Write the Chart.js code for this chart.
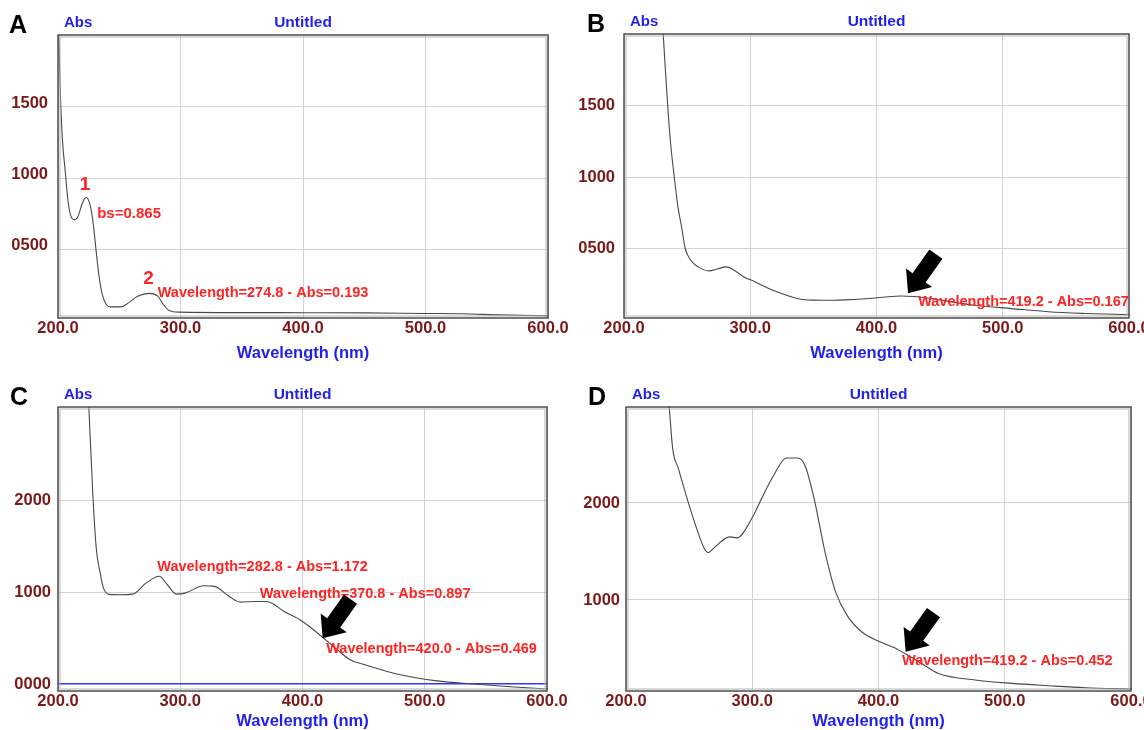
<!DOCTYPE html>
<html>
<head>
<meta charset="utf-8">
<script src="https://cdn.jsdelivr.net/npm/chart.js@4.4.0/dist/chart.umd.min.js"></script>
<style>
  body { margin: 0; background: #fff; width: 1144px; height: 730px; position: relative; overflow: hidden; }
  .panel { position: absolute; width: 572px; height: 365px; }
</style>
</head>
<body>
<div class="panel" style="left:0;top:0"><canvas id="chartA"></canvas></div>
<div class="panel" style="left:572px;top:0"><canvas id="chartB"></canvas></div>
<div class="panel" style="left:0;top:365px"><canvas id="chartC"></canvas></div>
<div class="panel" style="left:572px;top:365px"><canvas id="chartD"></canvas></div>
<script>
"use strict";

// shared x ticks (nm)
const xTickValues = [200, 300, 400, 500, 600];

// panel A
const wavelengthA = [200.6, 202.1, 203.6, 206, 208, 210.5, 213.5, 216.5, 220, 223, 226, 229, 231, 233.5, 236.5, 239.5, 242.5, 251.5, 257.5, 265, 274.8, 281.4, 286, 290.4, 299.3, 350, 400, 450, 500, 530, 560, 600];
const absA = [2010, 1551, 1273, 1040, 853, 736, 708, 736, 829, 865, 818, 666, 500, 313, 173, 115, 98, 98, 126, 173, 193, 173, 115, 75, 61, 58, 57, 56, 52, 50, 42, 35];
const yTicksA = [500, 1000, 1500];

// panel B
const wavelengthB = [231, 234.6, 236.9, 239.8, 242.7, 245.6, 248.5, 252.9, 258.7, 267.4, 274, 280.5, 286.3, 295, 304, 318, 333, 340, 350, 362, 375, 391, 405, 419.2, 430, 443, 460, 478, 507, 536, 565, 600];
const absB = [2010, 1500, 1238, 1003, 793, 652, 500, 418, 371, 343, 356, 371, 353, 301, 266, 207, 160, 144, 138, 137, 140, 148, 158, 167, 164, 150, 125, 102, 79, 57, 45, 36];
const yTicksB = [500, 1000, 1500];

// panel C
const wavelengthC = [225.2, 228.4, 231.3, 234.3, 237.3, 241.8, 251, 261, 272, 282.8, 289.5, 297, 304, 319, 328, 340, 349, 361, 370.8, 385, 400, 420, 430, 439, 451, 480, 510, 540, 570, 600];
const absC = [3020, 2090, 1475, 1221, 1040, 975, 971, 978, 1098, 1172, 1080, 978, 989, 1069, 1062, 953, 891, 898, 897, 790, 681, 469, 355, 264, 210, 100, 34, 0, -29, -54];
const yTicksC = [0, 1000, 2000];

// panel D
const wavelengthD = [234.2, 237, 241.5, 250, 256, 262, 265, 270.5, 282, 288, 299.6, 308, 317, 327, 336, 341.7, 349, 357.6, 366, 375, 386.6, 401, 412.8, 419.2, 425, 436, 447.6, 476.6, 505.7, 534.7, 563.7, 600];
const absD = [3000, 2560, 2355, 1976, 1734, 1528, 1486, 1545, 1648, 1638, 1838, 2062, 2286, 2465, 2465, 2390, 2045, 1493, 1079, 838, 666, 562, 500, 452, 410, 321, 234, 166, 131, 107, 86, 72];
const yTicksD = [1000, 2000];

const FONT = "'Liberation Sans', Arial, sans-serif";
const TICK_COLOR = "#7b1818";
const BLUE = "#1f1fee";
const RED = "#ff2424";
const W = 572, H = 365;

function drawArrow(ctx, tx, ty) {
    const len = 48, shaft = 16, headW = 32, headL = 19;
    const ux = 0.58, uy = -0.815;
    const px = -uy, py = ux;
    const bx = tx + ux * headL, by = ty + uy * headL;
    const ex = tx + ux * len, ey = ty + uy * len;
    ctx.beginPath();
    ctx.moveTo(tx, ty);
    ctx.lineTo(bx + px * headW / 2, by + py * headW / 2);
    ctx.lineTo(bx + px * shaft / 2, by + py * shaft / 2);
    ctx.lineTo(ex + px * shaft / 2, ey + py * shaft / 2);
    ctx.lineTo(ex - px * shaft / 2, ey - py * shaft / 2);
    ctx.lineTo(bx - px * shaft / 2, by - py * shaft / 2);
    ctx.lineTo(bx - px * headW / 2, by - py * headW / 2);
    ctx.closePath();
    ctx.fill();
}

const panelDecor = {
    id: "panelDecor",
    afterDraw(chart, args, opts) {
        const { ctx, chartArea: a, scales: { x, y } } = chart;
        ctx.save();

        // frame
        ctx.strokeStyle = "#4d4d4d";
        ctx.lineWidth = 1.5;
        ctx.strokeRect(a.left, a.top, a.right - a.left, a.bottom - a.top);
        ctx.strokeStyle = "#b5b5b5";
        ctx.lineWidth = 1;
        ctx.strokeRect(a.left + 2, a.top + 2, a.right - a.left - 4, a.bottom - a.top - 4);

        // header
        ctx.textBaseline = "middle";
        ctx.fillStyle = "#000";
        ctx.font = "bold 25px " + FONT;
        ctx.textAlign = "left";
        ctx.fillText(opts.letter, opts.letterX, a.top - 9);
        ctx.fillStyle = BLUE;
        ctx.font = "bold 15px " + FONT;
        ctx.fillText("Abs", a.left + 6, a.top - 12);
        ctx.textAlign = "center";
        ctx.font = "bold 15.5px " + FONT;
        ctx.fillText("Untitled", (a.left + a.right) / 2, a.top - 12);

        // annotations
        ctx.fillStyle = RED;
        opts.notes.forEach(function(n) {
            ctx.font = "bold " + (n.size || 14.5) + "px " + FONT;
            ctx.textAlign = n.align || "left";
            ctx.fillText(n.text, x.getPixelForValue(n.x), y.getPixelForValue(n.y));
        });

        // arrows
        ctx.fillStyle = "#000";
        opts.arrows.forEach(function(p) {
            drawArrow(ctx, x.getPixelForValue(p.x), y.getPixelForValue(p.y));
        });

        ctx.restore();
    }
};

function makePanel(id, wl, abs, yTicks, cfg) {
    const area = cfg.area;
    return new Chart(document.getElementById(id), {
        type: "line",
        data: {
            datasets: [{
                data: wl.map(function(w, i) { return { x: w, y: abs[i] }; }),
                borderColor: "#484848",
                borderWidth: 1.1,
                pointRadius: 0,
                cubicInterpolationMode: "monotone",
                fill: false
            }]
        },
        options: {
            responsive: true,
            maintainAspectRatio: false,
            animation: false,
            events: [],
            layout: { padding: { left: 0, right: W - area.right, top: area.top, bottom: 0 } },
            plugins: {
                legend: { display: false },
                tooltip: { enabled: false },
                panelDecor: { letter: cfg.letter, letterX: cfg.letterX, notes: cfg.notes, arrows: cfg.arrows }
            },
            scales: {
                x: {
                    type: "linear",
                    min: 200,
                    max: 600,
                    afterBuildTicks: function(s) { s.ticks = xTickValues.map(function(v) { return { value: v }; }); },
                    afterFit: function(s) { s.height = H - area.bottom; s.paddingLeft = 0; s.paddingRight = 0; },
                    grid: { color: "#d3d3d3", drawTicks: false },
                    border: { display: false },
                    ticks: {
                        padding: cfg.xPad,
                        autoSkip: false,
                        maxRotation: 0,
                        color: TICK_COLOR,
                        font: { family: FONT, size: 16.5, weight: "bold", lineHeight: 1 },
                        callback: function(v) { return Number(v).toFixed(1); }
                    },
                    title: {
                        display: true,
                        text: "Wavelength (nm)",
                        color: BLUE,
                        font: { family: FONT, size: 16.5, weight: "bold", lineHeight: 1.2 },
                        padding: { top: 0, bottom: cfg.titlePad }
                    }
                },
                y: {
                    type: "linear",
                    min: cfg.yMin,
                    max: cfg.yMax,
                    afterBuildTicks: function(s) { s.ticks = yTicks.map(function(v) { return { value: v }; }); },
                    afterFit: function(s) { s.width = area.left; s.paddingTop = 0; s.paddingBottom = 0; },
                    grid: {
                        color: function(c) { return c.tick && c.tick.value === 0 ? "#3535ff" : "#d3d3d3"; },
                        lineWidth: function(c) { return c.tick && c.tick.value === 0 ? 1.5 : 1; },
                        drawTicks: false
                    },
                    border: { display: false },
                    ticks: {
                        padding: cfg.yPad,
                        labelOffset: cfg.yLabelOffset,
                        autoSkip: false,
                        color: TICK_COLOR,
                        font: { family: FONT, size: 16.5, weight: "bold" },
                        callback: function(v) { return String(v).padStart(4, "0"); }
                    }
                }
            }
        },
        plugins: [panelDecor]
    });
}

makePanel("chartA", wavelengthA, absA, yTicksA, {
    area: { left: 58, right: 548, top: 35, bottom: 318 },
    yMin: 20, yMax: 2005, xPad: 2.5, yPad: 10, yLabelOffset: -4, titlePad: 2,
    letter: "A", letterX: 9,
    notes: [
        { x: 222, y: 956, text: "1", size: 19, align: "center" },
        { x: 232, y: 752, text: "bs=0.865", size: 15 },
        { x: 274, y: 292, text: "2", size: 19, align: "center" },
        { x: 281.4, y: 196, text: "Wavelength=274.8 - Abs=0.193" }
    ],
    arrows: []
});

makePanel("chartB", wavelengthB, absB, yTicksB, {
    area: { left: 52, right: 557, top: 34, bottom: 318 },
    yMin: 13, yMax: 2003, xPad: 2.5, yPad: 9, yLabelOffset: 0, titlePad: 2,
    letter: "B", letterX: 15,
    notes: [
        { x: 433, y: 125, text: "Wavelength=419.2 - Abs=0.167" }
    ],
    arrows: [{ x: 425, y: 186 }]
});

makePanel("chartC", wavelengthC, absC, yTicksC, {
    area: { left: 58, right: 547, top: 42, bottom: 326 },
    yMin: -76, yMax: 3014, xPad: 2, yPad: 7, yLabelOffset: 0, titlePad: -1.6,
    letter: "C", letterX: 10,
    notes: [
        { x: 281.2, y: 1268, text: "Wavelength=282.8 - Abs=1.172" },
        { x: 365.1, y: 982, text: "Wavelength=370.8 - Abs=0.897" },
        { x: 419.4, y: 377, text: "Wavelength=420.0 - Abs=0.469" }
    ],
    arrows: [{ x: 416.5, y: 497 }]
});

makePanel("chartD", wavelengthD, absD, yTicksD, {
    area: { left: 54, right: 559, top: 42, bottom: 326 },
    yMin: 52, yMax: 2993, xPad: 2, yPad: 6, yLabelOffset: 1, titlePad: -1.6,
    letter: "D", letterX: 16,
    notes: [
        { x: 418.6, y: 362, text: "Wavelength=419.2 - Abs=0.452" }
    ],
    arrows: [{ x: 421.5, y: 459 }]
});
</script>
</body>
</html>
